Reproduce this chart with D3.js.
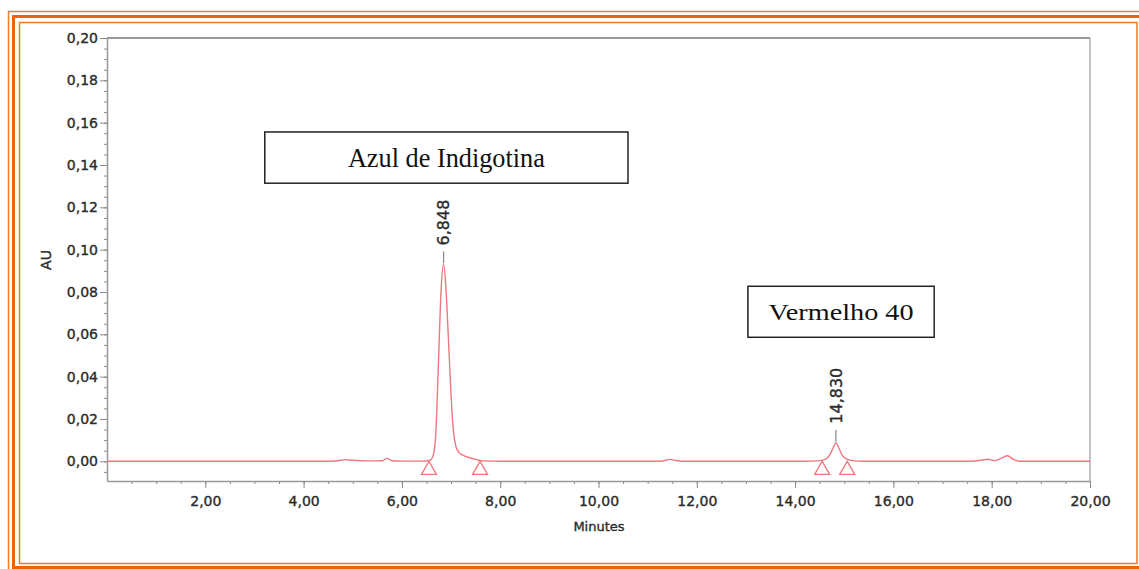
<!DOCTYPE html>
<html>
<head>
<meta charset="utf-8">
<script src="https://cdn.jsdelivr.net/npm/d3@7"></script>
<style>
  body { margin: 0; background: #fff; }
  svg { display: block; }
</style>
</head>
<body>
<svg id="svg"></svg>
<script>
// trace (minutes, AU)
const traceTimes = [0, 4.5, 4.7, 4.85, 5.0, 5.3, 5.6, 5.7, 5.8, 6.0, 6.4, 6.55, 6.60, 6.65, 6.69, 6.72, 6.76, 6.80, 6.848,
    6.89, 6.93, 6.97, 7.01, 7.05, 7.10, 7.16, 7.25, 7.38, 7.52, 7.65, 8.0, 11.2, 11.35, 11.45, 11.6, 11.8,
    14.2, 14.45, 14.6, 14.7, 14.77, 14.83, 14.89, 14.96, 15.05, 15.2, 15.4, 17.6, 17.8, 17.92, 18.05, 18.2,
    18.32, 18.45, 18.6, 20];
const traceAU = [0, 0, 0.0003, 0.0008, 0.0005, 0.0002, 0.0003, 0.0014, 0.0003, 0.0001, 0.0001, 0.0004, 0.001, 0.004,
    0.013, 0.030, 0.058, 0.082, 0.093, 0.084, 0.066, 0.046, 0.027, 0.014, 0.007, 0.0042, 0.0028, 0.0017, 0.0008,
    0.0002, 0, 0, 0.0004, 0.0009, 0.0003, 0, 0, 0.0002, 0.0008, 0.0028, 0.0062, 0.0088, 0.0063, 0.0028, 0.001,
    0.0002, 0, 0, 0.0006, 0.001, 0.0003, 0.0015, 0.0026, 0.0008, 0, 0];

// integrated peaks
const peakTimes = [6.848, 14.830];
const peakHeights = [0.093, 0.0088];
const peakLabels = ["6,848", "14,830"];

// integration start / end markers
const markerTimes = [6.55, 7.59, 14.55, 15.06];

// axis ticks
const xTickValues = [2, 4, 6, 8, 10, 12, 14, 16, 18, 20];
const yTickValues = [0, 0.02, 0.04, 0.06, 0.08, 0.10, 0.12, 0.14, 0.16, 0.18, 0.20];

const boxTexts = ["Azul de Indigotina", "Vermelho 40"];

// layout stuff
const width = 1139;
const height = 569;
const plot = { left: 107, right: 1090, top: 38, bottom: 481 };
// annotation boxes, in data units
const boxes = [
    { x0: 3.21, x1: 10.6, top: 0.1556, bottom: 0.1314, size: 27, len: 197 },
    { x0: 13.04, x1: 16.83, top: 0.0827, bottom: 0.0586, size: 23, len: 145 }
];

const traceColor = "#ec7880";
const orange = "#e8650e";
const labelColor = "#2a2a2a";

let svg = d3.select("#svg").attr("width", width).attr("height", height);

const locale = d3.formatLocale({ decimal: ",", thousands: ".", grouping: [3], currency: ["", ""] });
const fmt = locale.format(".2f");

let xScale = d3.scaleLinear().domain([0, 20]).range([plot.left, plot.right]);
let yScale = d3.scaleLinear().domain([-0.0093, 0.20]).range([plot.bottom, plot.top]);

// small helper so all the sans labels look the same (slightly heavy like the scan)
function sansText(sel, size) {
    return sel.style("font-family", "DejaVu Sans").style("font-size", size + "px")
        .attr("fill", labelColor).attr("stroke", labelColor).attr("stroke-width", 0.35);
}

function drawFrame() {
    // orange triple border around the figure
    svg.append("rect").attr("x", 8.5).attr("y", 11.5).attr("width", 1137).attr("height", 560)
        .attr("fill", "none").attr("stroke", "#ef7a2a").attr("stroke-width", 1.5);
    svg.append("rect").attr("x", 13.5).attr("y", 16.5).attr("width", 1128).attr("height", 551)
        .attr("fill", "none").attr("stroke", orange).attr("stroke-width", 3);
    svg.append("rect").attr("x", 19.5).attr("y", 22.5).attr("width", 1117.5).attr("height", 541)
        .attr("fill", "none").attr("stroke", "#ef7a2a").attr("stroke-width", 1.5);
}

function drawAxes() {
    // plot box top + right
    svg.append("line").attr("x1", plot.left).attr("x2", plot.right).attr("y1", plot.top).attr("y2", plot.top)
        .attr("stroke", "#777").attr("stroke-width", 1.5);
    svg.append("line").attr("x1", plot.right).attr("x2", plot.right).attr("y1", plot.top).attr("y2", plot.bottom)
        .attr("stroke", "#999").attr("stroke-width", 1.2);

    // minor ticks first
    const yMinor = d3.range(-0.005, 0.2001, 0.005);
    svg.append("g").attr("transform", `translate(${plot.left},0)`)
        .call(d3.axisLeft(yScale).tickValues(yMinor).tickSize(3).tickSizeOuter(0).tickFormat(""))
        .call(g => g.select(".domain").remove());
    const xMinor = d3.range(0.5, 20.01, 0.5);
    svg.append("g").attr("transform", `translate(0,${plot.bottom})`)
        .call(d3.axisBottom(xScale).tickValues(xMinor).tickSize(3).tickSizeOuter(0).tickFormat(""))
        .call(g => g.select(".domain").remove());

    let yAxis = svg.append("g").attr("transform", `translate(${plot.left},0)`)
        .call(d3.axisLeft(yScale).tickValues(yTickValues).tickSize(7).tickPadding(2).tickSizeOuter(0).tickFormat(fmt));
    let xAxis = svg.append("g").attr("transform", `translate(0,${plot.bottom})`)
        .call(d3.axisBottom(xScale).tickValues(xTickValues).tickSize(7).tickPadding(8).tickSizeOuter(0).tickFormat(fmt));

    [yAxis, xAxis].forEach(a => {
        a.select(".domain").attr("stroke", "#999").attr("stroke-width", 1.5);
        sansText(a.selectAll("text"), 14);
    });
    svg.selectAll(".tick line").attr("stroke", "#888");

    sansText(svg.append("text"), 14)
        .attr("transform", "translate(46,260) rotate(-90)")
        .attr("text-anchor", "middle").attr("dy", "0.35em")
        .text("AU");
    sansText(svg.append("text"), 13)
        .attr("x", 599).attr("y", 531)
        .attr("text-anchor", "middle")
        .text("Minutes");
}

function drawTrace() {
    const pts = traceTimes.map((t, i) => [t, traceAU[i]]);
    const line = d3.line()
        .x(d => xScale(d[0]))
        .y(d => yScale(d[1]))
        .curve(d3.curveMonotoneX);
    svg.append("path").datum(pts)
        .attr("d", line)
        .attr("fill", "none")
        .attr("stroke", traceColor)
        .attr("stroke-width", 1.4);

    // hollow triangles under the baseline
    svg.selectAll(".marker").data(markerTimes).enter().append("path")
        .attr("class", "marker")
        .attr("d", t => {
            const x = xScale(t), y = yScale(0);
            return `M${x},${y} L${x - 7.5},${y + 13} L${x + 7.5},${y + 13} Z`;
        })
        .attr("fill", "none").attr("stroke", traceColor).attr("stroke-width", 1.3);

    // peak retention time labels
    peakTimes.forEach((t, i) => {
        const x = xScale(t), y = yScale(peakHeights[i]);
        svg.append("line").attr("x1", x).attr("x2", x).attr("y1", y - 1).attr("y2", y - 13)
            .attr("stroke", "#888").attr("stroke-width", 1.2);
        sansText(svg.append("text"), 16)
            .attr("transform", `translate(${x},${y - 19}) rotate(-90)`)
            .attr("dy", "0.35em")
            .text(peakLabels[i]);
    });
}

function drawBoxes() {
    boxes.forEach((b, i) => {
        const x0 = xScale(b.x0), x1 = xScale(b.x1), y0 = yScale(b.top), y1 = yScale(b.bottom);
        svg.append("rect").attr("x", x0).attr("y", y0).attr("width", x1 - x0).attr("height", y1 - y0)
            .attr("fill", "#fff").attr("stroke", "#222").attr("stroke-width", 1.5);
        svg.append("text")
            .attr("x", (x0 + x1) / 2).attr("y", (y0 + y1) / 2).attr("dy", "0.36em")
            .attr("text-anchor", "middle")
            .attr("textLength", b.len).attr("lengthAdjust", "spacingAndGlyphs")
            .style("font-family", "Liberation Serif").style("font-size", b.size + "px").attr("fill", "#111")
            .text(boxTexts[i]);
    });
}

drawFrame();
drawAxes();
drawTrace();
drawBoxes();
</script>
</body>
</html>
